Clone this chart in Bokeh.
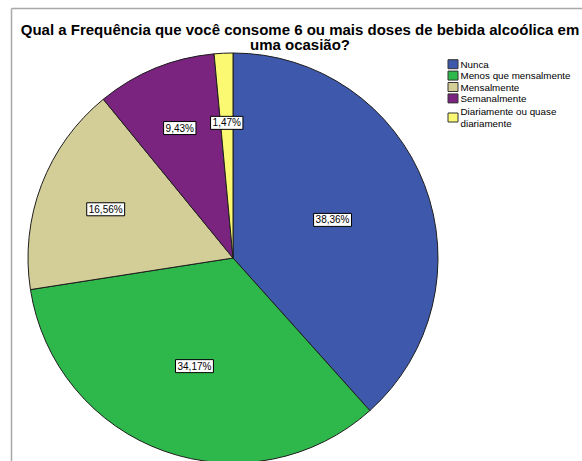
import math
from bokeh.plotting import figure
from bokeh.models import Range1d, ColumnDataSource
from bokeh.core.properties import value
from bokeh.embed import file_html
from bokeh.resources import INLINE

# ---- data ----
title_lines = ["Qual a Frequência que você consome 6 ou mais doses de bebida alcoólica em",
               "uma ocasião?"]
categories = ["Nunca", "Menos que mensalmente", "Mensalmente", "Semanalmente",
              "Diariamente ou quase\ndiariamente"]
percents = [38.36, 34.17, 16.56, 9.43, 1.47]
pct_labels = ["38,36%", "34,17%", "16,56%", "9,43%", "1,47%"]
colors = ["#3e58ac", "#2eb84b", "#d3cd98", "#7a237f", "#fbf872"]

# ---- layout ----
W, H = 582, 461
cx, cy, R = 232.5, 461 - 257.5, 205
label_r = [0.52, 0.56, 0.665, 0.685, 0.66]
FONT = "Liberation Sans"

p = figure(width=W, height=H, output_backend="svg", toolbar_location=None,
           x_range=Range1d(0, W), y_range=Range1d(0, H), min_border=0,
           outline_line_color=None)
p.axis.visible = False
p.grid.visible = False

# frame lines (left & top)
fx, fy = 11, 453
p.segment(x0=[fx, fx], y0=[fy, fy], x1=[W + 5, fx], y1=[fy, -5],
          line_color="#a8a8a8", line_width=1.5)

# wedges, clockwise from top
total = sum(percents)
starts, ends, lx, ly = [], [], [], []
a = math.pi / 2
for i, v in enumerate(percents):
    sweep = 2 * math.pi * v / total
    starts.append(a)
    ends.append(a - sweep)
    mid = a - sweep / 2
    lx.append(cx + label_r[i] * R * math.cos(mid))
    ly.append(cy + label_r[i] * R * math.sin(mid))
    a -= sweep

src = ColumnDataSource(dict(x=[cx] * len(percents), y=[cy] * len(percents),
                            s=starts, e=ends, c=colors))
p.wedge(x="x", y="y", radius=R, start_angle="s", end_angle="e", direction="clock",
        fill_color="c", line_color="#1e1e1e", line_width=1, source=src)

p.text(x=lx, y=ly, text=pct_labels, text_font=value(FONT), text_font_size="10px",
       text_align="center", text_baseline="middle", text_color="black",
       background_fill_color="white", border_line_color="black", border_line_width=1,
       padding=(2, 1))

# title
for j, t in enumerate(title_lines):
    p.text(x=[299.5], y=[432 - 15 * j], text=[t], text_font=value(FONT),
           text_font_size="15px", text_font_style="bold", text_align="center",
           text_baseline="middle", text_color="black")

# legend
ytop = 461 - 58
step = 11.4
bx, tx = 452.5, 460
cur = ytop
for i, (cat, col) in enumerate(zip(categories, colors)):
    lines = cat.split("\n")
    extra = 2 if len(lines) > 1 else 0
    cur -= extra
    block = step * len(lines)
    center = cur - block / 2
    p.rect(x=[bx], y=[center], width=10, height=9, fill_color=col,
           line_color="#333333", line_width=1)
    for k, ln in enumerate(lines):
        p.text(x=[tx], y=[cur - step * (k + 0.5)], text=[ln], text_font=value(FONT),
               text_font_size="9.8px", text_align="left", text_baseline="middle",
               text_color="black")
    cur -= block

open("out.html", "w").write(file_html(p, INLINE))
